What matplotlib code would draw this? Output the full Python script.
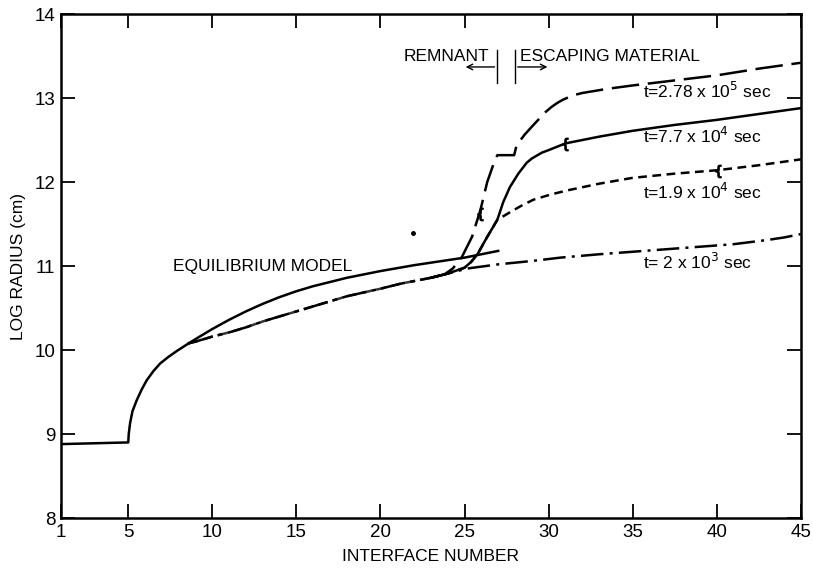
import matplotlib
matplotlib.use("Agg")
import matplotlib.pyplot as plt

plt.rcParams['font.family'] = ['Liberation Sans', 'DejaVu Sans']

# shared inner part (all models)
core_x = [1, 5, 5.03, 5.11, 5.25, 5.5, 5.8, 6.1, 6.5, 6.9, 7.4, 7.9, 8.6]
core_y = [8.88, 8.9, 9.0, 9.13, 9.27, 9.40, 9.53, 9.64, 9.75, 9.84, 9.92, 9.99, 10.08]

# equilibrium model
eq_x = [8.6, 9, 10, 11, 12, 13, 14, 15, 16, 17, 18, 20, 22, 24, 25, 27]
eq_y = [10.08, 10.13, 10.25, 10.36, 10.46, 10.55, 10.63, 10.7, 10.76, 10.81, 10.86, 10.94, 11.01, 11.07, 11.1, 11.18]

# common lower branch of the time-dependent runs
lo_x = [8.6, 9, 10, 11, 12, 13, 14, 16, 18, 20, 21.2, 23]
lo_y = [10.08, 10.1, 10.16, 10.21, 10.27, 10.34, 10.4, 10.52, 10.64, 10.73, 10.79, 10.86]

t1_x = [24, 25.15, 27, 29, 30.7, 33, 35, 37, 39, 41, 43, 44, 45]
t1_y = [10.91, 10.97, 11.02, 11.06, 11.1, 11.14, 11.17, 11.2, 11.23, 11.26, 11.31, 11.34, 11.38]

t3_x = [24, 25, 25.4, 25.8, 26.3, 26.95, 27.3, 27.7, 28.2, 28.7, 29.0, 29.6, 30, 31, 33, 35, 37.5, 40, 42.5, 45]
t3_y = [10.91, 10.98, 11.05, 11.15, 11.33, 11.55, 11.76, 11.94, 12.1, 12.23, 12.28, 12.35, 12.38, 12.46, 12.54, 12.61, 12.68, 12.74, 12.81, 12.88]

t2_x = [24, 25, 25.4, 25.8, 26.3, 26.95, 27.7, 28.4, 29.1, 30.1, 31.1, 33, 35, 37.5, 40, 42.5, 45]
t2_y = [10.91, 10.98, 11.05, 11.15, 11.33, 11.55, 11.64, 11.72, 11.79, 11.85, 11.9, 11.98, 12.05, 12.1, 12.14, 12.2, 12.27]

t4_x = [23.8, 24.3, 24.85, 25.45, 25.95, 26.35, 26.7, 26.95, 27.95, 28.1, 28.6, 29.1, 29.8, 30.15, 30.5, 30.85,
        31.2, 31.6, 32, 33.5, 35, 37.5, 40, 42.5, 45]
t4_y = [10.9, 10.97, 11.11, 11.35, 11.67, 12.0, 12.2, 12.32, 12.32, 12.44, 12.57, 12.68, 12.83, 12.89, 12.94, 12.98,
        13.01, 13.04, 13.06, 13.11, 13.15, 13.21, 13.27, 13.35, 13.42]

labels = ["t=2.78 x 10$^5$ sec", "t=7.7 x 10$^4$ sec", "t=1.9 x 10$^4$ sec", "t= 2 x 10$^3$ sec"]
label_y = [13.08, 12.55, 11.88, 11.05]

fig = plt.figure(figsize=(8.13, 5.69), dpi=100)
ax = fig.add_axes([0.075, 0.0896, 0.91, 0.8857])

lw = 1.8
ax.plot(core_x, core_y, color='black', lw=lw)
ax.plot(eq_x, eq_y, color='black', lw=lw)
ax.plot(lo_x, lo_y, color='black', lw=lw, dashes=(10, 2, 2, 2))
ax.plot(lo_x, lo_y, color='black', lw=lw, dashes=(4, 2), alpha=0.8)
ax.plot(lo_x[-1:] + t1_x, lo_y[-1:] + t1_y, color='black', lw=lw, dashes=(9, 2.5, 1.2, 2.5))
ax.plot(lo_x[-1:] + t2_x, lo_y[-1:] + t2_y, color='black', lw=lw, dashes=(3.5, 2.2))
ax.plot(lo_x[-1:] + t3_x, lo_y[-1:] + t3_y, color='black', lw=lw)
ax.plot(lo_x[-1:] + t4_x, lo_y[-1:] + t4_y, color='black', lw=lw, dashes=(11, 3.5))

# small bracket marks on the curves
ax.plot([31.0, 40.05, 25.9], [12.45, 12.13, 11.62], ls='none', marker=r'$\{$',
        color='black', markersize=9)
ax.plot([21.95], [11.39], ls='none', marker='o', color='black', markersize=2.5)

for lab, yy in zip(labels, label_y):
    ax.text(35.6, yy, lab, fontsize=12.5, va='center', ha='left')
ax.text(7.67, 10.99, "EQUILIBRIUM MODEL", fontsize=12.5, va='center', ha='left')

# remnant / escaping material boundary
ax.plot([26.95, 26.95], [13.18, 13.57], color='black', lw=1)
ax.plot([28.0, 28.0], [13.18, 13.57], color='black', lw=1)
ax.annotate('', xy=(24.9, 13.37), xytext=(26.95, 13.37),
            arrowprops=dict(arrowstyle='->', lw=1, color='black'))
ax.annotate('', xy=(30.1, 13.37), xytext=(28.0, 13.37),
            arrowprops=dict(arrowstyle='->', lw=1, color='black'))
ax.text(26.5, 13.49, "REMNANT", fontsize=12.5, va='center', ha='right')
ax.text(28.3, 13.49, "ESCAPING MATERIAL", fontsize=12.5, va='center', ha='left')

ax.set_xlim(1, 45)
ax.set_ylim(8, 14)
ax.set_xticks([1, 5, 10, 15, 20, 25, 30, 35, 40, 45])
ax.set_yticks([8, 9, 10, 11, 12, 13, 14])
ax.tick_params(direction='in', length=10, width=1.3, top=True, right=True,
               labelsize=13.5, pad=4)
for s in ax.spines.values():
    s.set_linewidth(1.8)
ax.set_xlabel("INTERFACE NUMBER", fontsize=12.5, labelpad=6)
ax.set_ylabel("LOG RADIUS (cm)", fontsize=12.5, labelpad=6)

fig.savefig("out.png", dpi=100)
